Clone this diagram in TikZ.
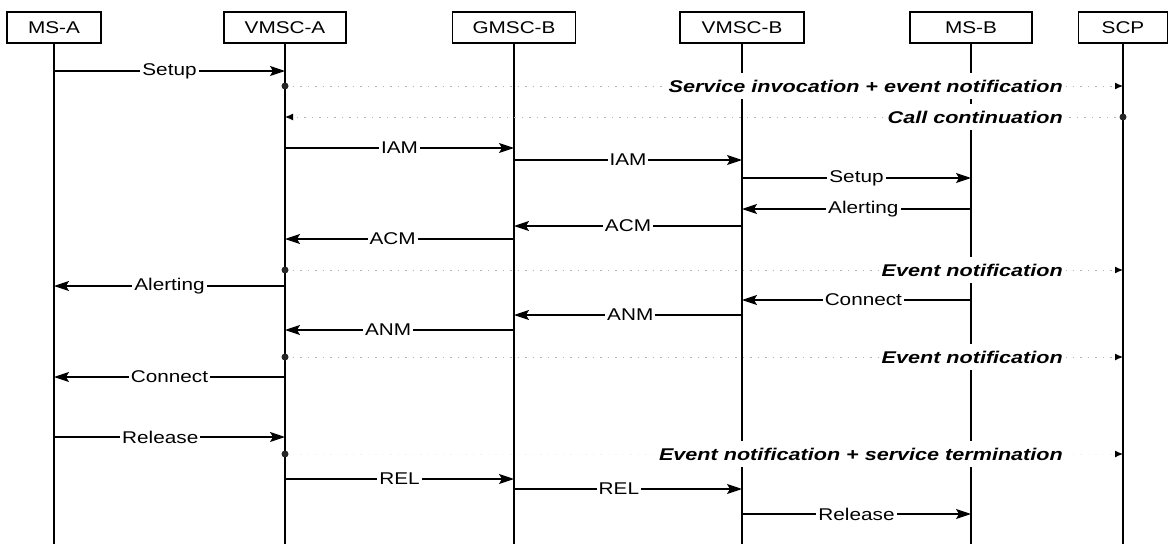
\documentclass[tikz,border=0pt]{standalone}
\usepackage{fontspec}
\setmainfont{Liberation Sans}
\newfontfamily\msgfont{Liberation Sans}[FakeStretch=1.22]
\newfontfamily\evtfont{Liberation Sans}[FakeStretch=1.27]
\usetikzlibrary{arrows.meta}
\begin{document}
\begin{tikzpicture}[x=1pt,y=-1pt,
  ent/.style={draw, line width=1.5pt, fill=white, minimum height=31pt, inner sep=0pt, font=\msgfont\fontsize{17}{19}\selectfont},
  life/.style={line width=1.4pt},
  msg/.style={line width=1.2pt, -{Stealth[length=15pt,width=10pt,inset=3pt]}},
  mlbl/.style={fill=white, inner xsep=2pt, inner ysep=1pt, font=\msgfont\fontsize{17}{19}\selectfont},
  evl/.style={fill=white, inner xsep=3pt, inner ysep=7pt, anchor=east, font=\evtfont\bfseries\itshape\fontsize{17}{19}\selectfont},
  sig/.style={draw={rgb,255:red,185;green,175;blue,195}, line width=1pt, dash pattern=on 1.5pt off 6pt},
  sigtip/.style={-{Latex[length=8pt,width=7pt,color=black]}},
  dot/.style={fill=black!85}
]
\fill[white] (0,0) rectangle (1168,544);
\useasboundingbox (0,0) rectangle (1168,544);

% entities
\node[ent, minimum width=94pt] (msa) at (54,27.5) {MS-A};
\node[ent, minimum width=122pt] (vmsca) at (285,27.5) {VMSC-A};
\node[ent, minimum width=123pt] (gmscb) at (514,27.5) {GMSC-B};
\node[ent, minimum width=124pt] (vmscb) at (742,27.5) {VMSC-B};
\node[ent, minimum width=122pt] (msb) at (971,27.5) {MS-B};
\node[ent, minimum width=89pt] (scp) at (1123,27.5) {SCP};

% lifelines
\coordinate (msaE) at (54,544);
\coordinate (vmscaE) at (285,544);
\coordinate (gmscbE) at (514,544);
\coordinate (vmscbE) at (742,544);
\coordinate (msbE) at (971,544);
\coordinate (scpE) at (1123,544);
\draw[life] (msa.south) -- (msaE);
\draw[life] (vmsca.south) -- (vmscaE);
\draw[life] (gmscb.south) -- (gmscbE);
\draw[life] (vmscb.south) -- (vmscbE);
\draw[life] (msb.south) -- (msbE);
\draw[life] (scp.south) -- (scpE);

% signalling to SCP (dotted)
\draw[sig, sigtip] (vmsca |- 0,86) -- (scp |- 0,86);
\fill[dot] (vmsca |- 0,86) circle (3.5pt);
\node[evl] (l1) at (1066,86) {Service invocation + event notification};

\draw[sig, sigtip] (scp |- 0,117) -- (vmsca |- 0,117);
\fill[dot] (scp |- 0,117) circle (3.5pt);
\node[evl] (l2) at (1066,117) {Call continuation};

\draw[sig, sigtip] (vmsca |- 0,270) -- (scp |- 0,270);
\fill[dot] (vmsca |- 0,270) circle (3.5pt);
\node[evl] (l3) at (1066,270) {Event notification};

\draw[sig, sigtip] (vmsca |- 0,357) -- (scp |- 0,357);
\fill[dot] (vmsca |- 0,357) circle (3.5pt);
\node[evl] (l4) at (1066,357) {Event notification};

\draw[draw=black!5, line width=1pt, dash pattern=on 1.5pt off 6pt, sigtip] (vmsca |- 0,454) -- (scp |- 0,454);
\fill[dot] (vmsca |- 0,454) circle (3.5pt);
\node[evl] (l5) at (1066,454) {Event notification + service termination};

% messages
\draw[msg] (msa |- 0,71) -- node[mlbl] (m1) {Setup} (vmsca |- 0,71);
\draw[msg] (vmsca |- 0,148) -- node[mlbl] (m2) {IAM} (gmscb |- 0,148);
\draw[msg] (gmscb |- 0,160) -- node[mlbl] (m3) {IAM} (vmscb |- 0,160);
\draw[msg] (vmscb |- 0,178) -- node[mlbl] (m4) {Setup} (msb |- 0,178);
\draw[msg] (msb |- 0,209) -- node[mlbl, pos=0.47] (m5) {Alerting} (vmscb |- 0,209);
\draw[msg] (vmscb |- 0,226) -- node[mlbl] (m6) {ACM} (gmscb |- 0,226);
\draw[msg] (gmscb |- 0,239) -- node[mlbl, pos=0.53] (m7) {ACM} (vmsca |- 0,239);
\draw[msg] (vmsca |- 0,286) -- node[mlbl, pos=0.5] (m8) {Alerting} (msa |- 0,286);
\draw[msg] (msb |- 0,300) -- node[mlbl, pos=0.47] (m9) {Connect} (vmscb |- 0,300);
\draw[msg] (vmscb |- 0,315) -- node[mlbl, pos=0.49] (m10) {ANM} (gmscb |- 0,315);
\draw[msg] (gmscb |- 0,330) -- node[mlbl, pos=0.55] (m11) {ANM} (vmsca |- 0,330);
\draw[msg] (vmsca |- 0,377) -- node[mlbl, pos=0.5] (m12) {Connect} (msa |- 0,377);
\draw[msg] (msa |- 0,437) -- node[mlbl, pos=0.46] (m13) {Release} (vmsca |- 0,437);
\draw[msg] (vmsca |- 0,479) -- node[mlbl] (m14) {REL} (gmscb |- 0,479);
\draw[msg] (gmscb |- 0,489) -- node[mlbl, pos=0.46] (m15) {REL} (vmscb |- 0,489);
\draw[msg] (vmscb |- 0,514) -- node[mlbl] (m16) {Release} (msb |- 0,514);
\end{tikzpicture}
\end{document}
